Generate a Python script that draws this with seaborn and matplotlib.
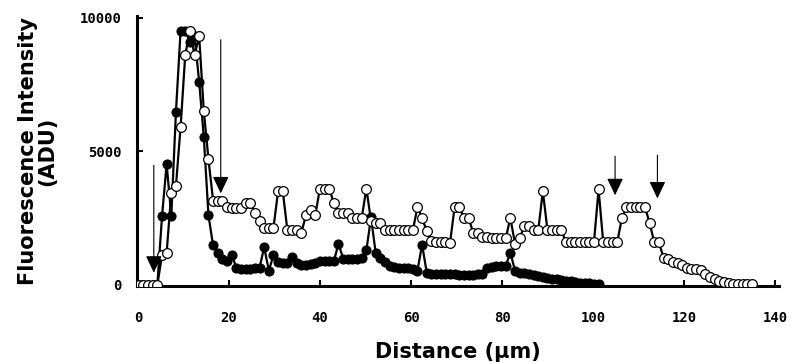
import numpy as np
import pandas as pd
import matplotlib
matplotlib.use("Agg")
import matplotlib.pyplot as plt
import seaborn as sns

# ---------------- data ----------------
STEP_UM = 1.02      # sampling step of the line profile (µm)
START_UM = 0.2

open_intensity = [
    0, 0, 0, 0, 0, 1100, 1200, 3450, 3700, 5900,
    8600, 9500, 8600, 9300, 6500, 4700, 3150, 3150, 3150, 2900,
    2880, 2880, 2880, 3050, 3050, 2700, 2400, 2140, 2140, 2140,
    3500, 3500, 2030, 2030, 2030, 1950, 2600, 2800, 2600, 3600,
    3600, 3600, 3050, 2700, 2700, 2700, 2500, 2500, 2500, 3600,
    2400, 2300, 2300, 2030, 2030, 2030, 2030, 2030, 2030, 2030,
    2900, 2500, 2000, 1650, 1580, 1580, 1580, 1550, 2900, 2900,
    2500, 2500, 1950, 1930, 1800, 1770, 1730, 1730, 1730, 1730,
    2500, 1540, 1730, 2200, 2200, 2030, 2030, 3500, 2030, 2030,
    2030, 2030, 1580, 1580, 1580, 1580, 1580, 1580, 1580, 3570,
    1580, 1580, 1580, 1580, 2480, 2900, 2900, 2900, 2900, 2900,
    2300, 1580, 1580, 1000, 980, 850, 800, 720, 640, 600,
    600, 560, 400, 300, 220, 150, 100, 60, 40, 30,
    30, 30, 30,
]

filled_intensity = [
    0, 0, 0, 0, 0, 2560, 4510, 2560, 6470, 9500,
    9500, 9100, 9300, 7600, 5530, 2600, 1470, 1200, 980, 900,
    1130, 640, 600, 600, 600, 620, 640, 1400, 530, 1100,
    850, 800, 800, 1050, 800, 750, 750, 780, 800, 880,
    880, 880, 880, 1540, 980, 980, 980, 980, 1000, 1280,
    2520, 1200, 1000, 850, 710, 650, 640, 640, 640, 600,
    530, 1500, 450, 400, 400, 400, 390, 390, 390, 380,
    380, 380, 380, 390, 410, 640, 680, 700, 700, 700,
    1200, 530, 450, 420, 400, 350, 320, 280, 260, 230,
    200, 160, 150, 120, 100, 80, 70, 50, 40, 30,
]

# arrows: (x position µm, y of line top, y of arrow tip)
arrow_x = [3.5, 18.2, 104.8, 114.1]
arrow_top = [4470, 9170, 4810, 4850]
arrow_tip = [450, 3420, 3350, 3230]

x_ticks = [0, 20, 40, 60, 80, 100, 120, 140]
y_ticks = [0, 5000, 10000]

open_df = pd.DataFrame({
    "distance": np.round(START_UM + STEP_UM * np.arange(len(open_intensity)), 3),
    "intensity": open_intensity,
})
filled_df = pd.DataFrame({
    "distance": np.round(START_UM + STEP_UM * np.arange(len(filled_intensity)), 3),
    "intensity": filled_intensity,
})

# ---------------- style ----------------
sns.set_style("ticks")
plt.rcParams["font.family"] = ["DejaVu Sans Mono", "DejaVu Sans"]
plt.rcParams["text.color"] = "black"
plt.rcParams["axes.labelcolor"] = "black"

fig = plt.figure(figsize=(7.94, 3.62), dpi=100)
ax = fig.add_axes([0.1725, 0.2099, 0.8086, 0.7459])

sns.lineplot(data=filled_df, x="distance", y="intensity", ax=ax,
             estimator=None, sort=False, color="black", linewidth=1.6,
             marker="o", markersize=6.5, markerfacecolor="black",
             markeredgecolor="black", markeredgewidth=0.8, zorder=2)
sns.lineplot(data=open_df, x="distance", y="intensity", ax=ax,
             estimator=None, sort=False, color="black", linewidth=1.6,
             marker="o", markersize=7, markerfacecolor="white",
             markeredgecolor="black", markeredgewidth=0.9, zorder=3)

for xa, yt, yp in zip(arrow_x, arrow_top, arrow_tip):
    ax.annotate("", xy=(xa, yp), xytext=(xa, yt),
                arrowprops=dict(arrowstyle="-|>,head_width=0.5,head_length=1.05",
                                color="black", lw=0.8, shrinkA=0, shrinkB=0),
                zorder=4)

ax.set_xlim(-0.2, 140.8)
ax.set_ylim(-50, 10060)
ax.set_xticks(x_ticks)
ax.set_yticks(y_ticks)
ax.tick_params(direction="in", length=4, width=1.5, labelsize=10, colors="black")
ax.tick_params(axis="x", pad=18)
ax.tick_params(axis="y", pad=11)
for lab in ax.get_xticklabels() + ax.get_yticklabels():
    lab.set_fontweight("bold")

for side in ["top", "right"]:
    ax.spines[side].set_visible(False)
for side in ["left", "bottom"]:
    ax.spines[side].set_linewidth(2.2)
    ax.spines[side].set_color("black")

label_font = dict(family=["DejaVu Sans"], fontweight="bold", fontsize=15,
                  color="black")
ax.set_xlabel("Distance (μm)", labelpad=12, **label_font)
ax.set_ylabel("Fluorescence Intensity\n(ADU)", labelpad=16,
              linespacing=1.0, **label_font)

fig.savefig("out.png", dpi=100)
